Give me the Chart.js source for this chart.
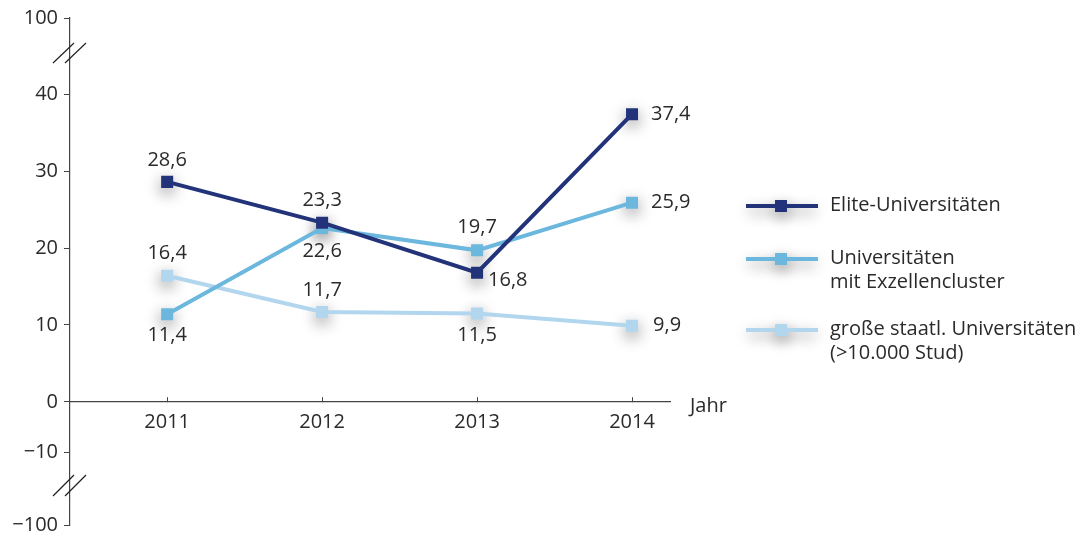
<!DOCTYPE html>
<html>
<head>
<meta charset="utf-8">
<script src="https://cdn.jsdelivr.net/npm/chart.js@4"></script>
<style>
  html, body { margin: 0; padding: 0; background: #fff; }
  #wrap { position: relative; width: 1077px; height: 536px; }
</style>
</head>
<body>
<div id="wrap"><canvas id="chart"></canvas></div>
<script>
'use strict';

const years = [2011, 2012, 2013, 2014];
const elite = [28.6, 23.3, 16.8, 37.4];
const exzellenz = [11.4, 22.6, 19.7, 25.9];
const gross = [16.4, 11.7, 11.5, 9.9];
const seriesNames = ['Elite-Universitäten', ['Universitäten', 'mit Exzellencluster'], ['große staatl. Universitäten', '(>10.000 Stud)']];
// broken axis: below 0 and above 40 the axis is compressed,
// so those ticks sit at the scale positions where the original draws them
const yTickValues = [-16.09, -6.54, 0, 10, 20, 30, 40, 49.9];
const yTickLabels = ['\u2212100', '\u221210', '0', '10', '20', '30', '40', '100'];

// label placement per point: [dx, dy, align]
const labelPos = [
  [[0, -22, 'center'], [0, -22, 'center'], [11, 8, 'left'], [19, 0, 'left']],
  [[0, 21, 'center'], [0, 23, 'center'], [0, -23, 'center'], [19, 0, 'left']],
  [[0, -22, 'center'], [0, -22, 'center'], [0, 22, 'center'], [21, 0, 'left']],
];

const colors = ['#23337a', '#6bb7dd', '#b2d6ee'];
const FONT = '"Open Sans", "Noto Sans", sans-serif';
const TXT = '#2a2a2a';

function fmt(v) { return String(v).replace('.', ','); }

const mk = (vals, i) => ({
  label: Array.isArray(seriesNames[i]) ? seriesNames[i].join(' ') : seriesNames[i],
  data: vals.map((v, k) => ({ x: years[k], y: v })),
  borderColor: colors[i],
  backgroundColor: colors[i],
  borderWidth: 4,
  pointStyle: 'rect',
  pointRadius: 8.5,
  pointHoverRadius: 8.5,
  pointBorderWidth: 0,
  tension: 0,
});

const extras = {
  id: 'extras',
  beforeDatasetsDraw(chart) {
    const ctx = chart.ctx;
    ctx.save();
    ctx.shadowColor = 'rgba(0,0,0,0.28)';
    ctx.shadowBlur = 14;
    ctx.shadowOffsetX = 10000;
    ctx.shadowOffsetY = 5;
    ctx.fillStyle = '#000';
    chart.data.datasets.forEach((ds, i) => {
      chart.getDatasetMeta(i).data.forEach((p) => {
        ctx.fillRect(p.x - 10000 - 8, p.y - 8, 16, 16);
      });
    });
    // legend shadows
    [206, 259, 330].forEach((y) => {
      ctx.fillRect(748 - 10000, y - 3, 68, 6);
      ctx.fillRect(775 - 10000, y - 7, 14, 14);
    });
    ctx.restore();
  },
  afterDraw(chart) {
    const ctx = chart.ctx;
    const x = chart.scales.x, y = chart.scales.y;
    ctx.save();
    ctx.font = '20px ' + FONT;
    ctx.fillStyle = TXT;
    ctx.textBaseline = 'middle';
    chart.data.datasets.forEach((ds, i) => {
      chart.getDatasetMeta(i).data.forEach((p, k) => {
        const [dx, dy, al] = labelPos[i][k];
        ctx.textAlign = al;
        ctx.fillText(fmt(ds.data[k].y), p.x + dx, p.y + dy);
      });
    });
    // axis title
    ctx.textAlign = 'left';
    ctx.fillText('Jahr', x.right + 20, y.getPixelForValue(0) + 4);

    // axis breaks
    ctx.strokeStyle = '#222';
    ctx.lineWidth = 1.2;
    [[63, 43], [496, 475]].forEach(([y1, y2]) => {
      [0, 12].forEach((off) => {
        ctx.beginPath();
        ctx.moveTo(53 + off, y1);
        ctx.lineTo(74 + off, y2);
        ctx.stroke();
      });
    });

    // legend
    const rows = [206, 259, 330];
    rows.forEach((ry, i) => {
      ctx.strokeStyle = colors[i];
      ctx.lineWidth = 4;
      ctx.beginPath();
      ctx.moveTo(746, ry);
      ctx.lineTo(818, ry);
      ctx.stroke();
      ctx.fillStyle = colors[i];
      ctx.fillRect(775, ry - 6, 12, 12);
      ctx.fillStyle = TXT;
      ctx.textAlign = 'left';
      const lines = Array.isArray(seriesNames[i]) ? seriesNames[i] : [seriesNames[i]];
      lines.forEach((t, j) => ctx.fillText(t, 830, ry - 1 + j * 24));
    });
    ctx.restore();
  },
};

new Chart(document.getElementById('chart'), {
  type: 'line',
  data: { datasets: [mk(elite, 0), mk(exzellenz, 1), mk(gross, 2)] },
  options: {
    responsive: true,
    maintainAspectRatio: false,
    animation: false,
    layout: { padding: { left: 0, top: 18, right: 407, bottom: 10.3 } },
    plugins: { legend: { display: false }, tooltip: { enabled: false } },
    scales: {
      x: {
        type: 'linear',
        position: { y: 0 },
        min: 2010.373,
        max: 2014.245,
        afterBuildTicks: (s) => { s.ticks = years.map((v) => ({ value: v })); },
        ticks: { callback: (v) => String(v), color: TXT, font: { size: 20, family: FONT }, padding: 13, maxRotation: 0 },
        grid: { drawOnChartArea: false, drawTicks: true, tickLength: -5, color: '#444' },
        border: { color: '#444', width: 1.2 },
      },
      y: {
        min: yTickValues[0],
        max: yTickValues[yTickValues.length - 1],
        afterFit: (s) => { s.width = 70; s.paddingTop = 0; s.paddingBottom = 0; },
        afterBuildTicks: (s) => { s.ticks = yTickValues.map((v) => ({ value: v })); },
        ticks: {
          callback: (v) => yTickLabels[yTickValues.indexOf(v)],
          color: TXT, font: { size: 20, family: FONT }, padding: 6,
        },
        grid: { drawOnChartArea: false, drawTicks: true, tickLength: 6, color: '#444' },
        border: { color: '#444', width: 1.2 },
      },
    },
  },
  plugins: [extras],
});
</script>
</body>
</html>
